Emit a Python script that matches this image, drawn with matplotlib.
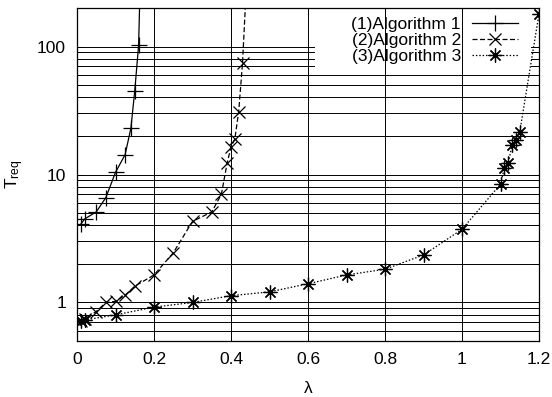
import numpy as np
import matplotlib
matplotlib.use("Agg")
import matplotlib.pyplot as plt
from matplotlib.patches import Rectangle
from matplotlib.ticker import FixedLocator, NullFormatter

plt.rcParams['font.family'] = ['Liberation Sans', 'DejaVu Sans']
plt.rcParams['mathtext.default'] = 'regular'

# values (lambda vs T_req)
lam1 = [0.01, 0.02, 0.05, 0.075, 0.1, 0.125, 0.14, 0.15, 0.16, 0.165]
t1 = [4.1, 4.5, 5.1, 6.6, 10.4, 14.3, 23, 45, 102, 400]

lam2 = [0.01, 0.02, 0.05, 0.075, 0.1, 0.125, 0.15, 0.2, 0.25, 0.3, 0.35,
        0.375, 0.39, 0.4, 0.41, 0.42, 0.43, 0.44]
t2 = [0.72, 0.74, 0.85, 1.0, 1.02, 1.14, 1.34, 1.64, 2.44, 4.3, 5.1,
      7.0, 12.3, 16.4, 19, 31, 75, 300]

lam3 = [0.01, 0.02, 0.1, 0.2, 0.3, 0.4, 0.5, 0.6, 0.7, 0.8, 0.9, 1.0,
        1.1, 1.11, 1.12, 1.13, 1.14, 1.15, 1.2]
t3 = [0.72, 0.73, 0.80, 0.92, 1.0, 1.13, 1.21, 1.40, 1.64, 1.82, 2.35, 3.73,
      8.4, 11.2, 12.2, 17, 18.5, 21.5, 180]

labels = ['(1)Algorithm 1', '(2)Algorithm 2', '(3)Algorithm 3']
xticks = [0, 0.2, 0.4, 0.6, 0.8, 1, 1.2]
xtick_labels = ['0', '0.2', '0.4', '0.6', '0.8', '1', '1.2']
yticks = [1, 10, 100]

fs = 12.5

fig = plt.figure(figsize=(5.52, 3.97), dpi=100)
ax = fig.add_axes([77 / 552, 1 - 341 / 397, 462 / 552, 333 / 397])

ax.set_yscale('log')
ax.set_xlim(0, 1.2)
ax.set_ylim(0.5, 200)

# horizontal grid on every minor decade step
ygrid = [v * 10 ** e for e in range(-1, 3) for v in range(1, 10)]
ygrid = [v for v in ygrid if 0.5 < v < 200]
for v in ygrid:
    ax.axhline(v, color='k', lw=0.7, zorder=0.5)

# gnuplot-style key area hides horizontal grid only
ax.add_patch(Rectangle((0.515, 0.814), 0.468, 0.2, transform=ax.transAxes,
                       facecolor='white', edgecolor='none', zorder=0.7))

for v in xticks[1:-1]:
    ax.axvline(v, color='k', lw=0.7, zorder=0.8)

ax.plot(lam1, t1, color='k', lw=0.9, ls='-', marker='+', ms=11, mew=0.9,
        label=labels[0], zorder=2)
ax.plot(lam2, t2, color='k', lw=0.9, ls=(0, (4, 2)), marker='x', ms=8, mew=0.9,
        label=labels[1], zorder=2)
ax.plot(lam3, t3, color='k', lw=0.9, ls=(0, (1.2, 1.5)), marker=(8, 2, 0), ms=10,
        mew=0.9, label=labels[2], zorder=2)

ax.set_xticks(xticks)
ax.set_xticklabels(xtick_labels)
ax.yaxis.set_major_locator(FixedLocator(yticks))
ax.set_yticklabels(['1', '10', '100'])
ax.yaxis.set_minor_locator(FixedLocator(ygrid))
ax.yaxis.set_minor_formatter(NullFormatter())

ax.tick_params(which='both', direction='in', top=True, right=True,
               labelsize=fs, pad=8, width=0.7)
ax.tick_params(which='major', length=6)
ax.tick_params(which='minor', length=4)
for s in ax.spines.values():
    s.set_linewidth(0.9)

ax.set_xlabel('λ', fontsize=fs, labelpad=10)
ax.set_ylabel('T$_{req}$', fontsize=fs, labelpad=8)

ax.legend(loc='upper right', frameon=False, markerfirst=False, numpoints=1,
          fontsize=fs, handlelength=2.65, handletextpad=0.65, labelspacing=0.05,
          borderaxespad=0.0, bbox_to_anchor=(0.97, 0.995))

fig.savefig('out.png', dpi=100)
